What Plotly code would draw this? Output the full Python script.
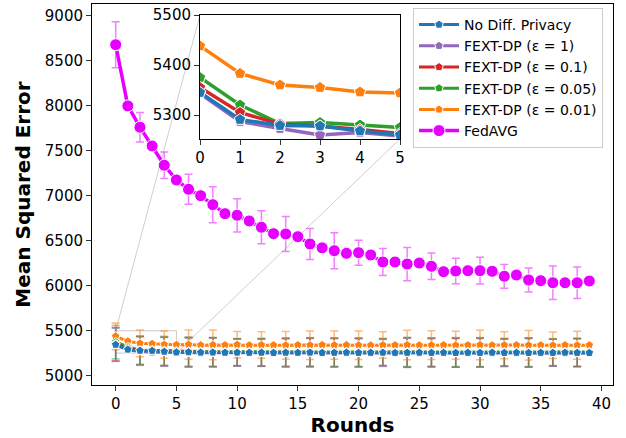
import plotly.graph_objects as go

rounds = list(range(40))

no_dp = [5345, 5291, 5279, 5278, 5268, 5260, 5262, 5258, 5259, 5257,
         5258, 5256, 5257, 5255, 5257, 5256, 5258, 5255, 5256, 5257,
         5255, 5256, 5257, 5255, 5256, 5257, 5255, 5256, 5254, 5256,
         5255, 5257, 5255, 5256, 5254, 5256, 5255, 5257, 5255, 5254]
eps_1 = [5343, 5287, 5273, 5260, 5265, 5258, 5256, 5255, 5257, 5254,
         5256, 5255, 5254, 5256, 5255, 5253, 5256, 5254, 5255, 5256,
         5254, 5255, 5253, 5256, 5254, 5255, 5256, 5254, 5255, 5253,
         5256, 5254, 5255, 5254, 5256, 5253, 5255, 5254, 5256, 5254]
eps_01 = [5355, 5305, 5282, 5278, 5271, 5263, 5262, 5260, 5261, 5259,
          5260, 5258, 5259, 5260, 5258, 5259, 5261, 5258, 5259, 5260,
          5258, 5259, 5260, 5258, 5259, 5261, 5258, 5259, 5257, 5259,
          5260, 5258, 5259, 5260, 5258, 5259, 5257, 5260, 5258, 5259]
eps_005 = [5375, 5320, 5283, 5285, 5280, 5275, 5270, 5268, 5267, 5266,
           5265, 5266, 5264, 5265, 5266, 5264, 5265, 5266, 5264, 5265,
           5263, 5265, 5266, 5264, 5265, 5263, 5265, 5266, 5264, 5265,
           5264, 5266, 5264, 5265, 5263, 5265, 5264, 5266, 5264, 5265]
eps_001 = [5438, 5383, 5360, 5355, 5346, 5344, 5346, 5340, 5343, 5341,
           5345, 5339, 5342, 5340, 5338, 5341, 5339, 5342, 5340, 5341,
           5339, 5338, 5341, 5340, 5342, 5339, 5340, 5341, 5338, 5340,
           5342, 5339, 5340, 5341, 5339, 5340, 5338, 5341, 5339, 5340]
fedavg = [8680, 8000, 7763, 7555, 7340, 7177, 7073, 7002, 6902, 6802,
          6784, 6721, 6651, 6580, 6576, 6546, 6465, 6422, 6390, 6361,
          6368, 6343, 6265, 6265, 6242, 6253, 6217, 6157, 6164, 6168,
          6168, 6161, 6106, 6120, 6065, 6057, 6034, 6034, 6034, 6053]

# error bars (shown at every second round)
err_small = [185, 158, 160, 162, 160, 150, 152, 157, 158, 158,
             158, 150, 162, 158, 161, 160, 152, 160, 150, 156]
err_001 = [149, 149, 151, 163, 165, 148, 148, 155, 158, 158,
           158, 147, 163, 160, 156, 163, 150, 163, 147, 155]
err_fedavg = [255, 163, 148, 167, 200, 185, 183, 195, 172, 200,
              139, 150, 185, 148, 141, 148, 132, 134, 187, 174]

names = ["No Diff. Privacy", "FEXT-DP (ε = 1)", "FEXT-DP (ε = 0.1)",
         "FEXT-DP (ε = 0.05)", "FEXT-DP (ε = 0.01)", "FedAVG"]
colors = ["#1f77b4", "#9467bd", "#d62728", "#2ca02c", "#ff7f0e", "#e600ff"]
err_colors = ["rgba(31,119,180,0.45)", "rgba(148,103,189,0.45)",
              "rgba(214,39,40,0.45)", "rgba(44,160,44,0.45)",
              "rgba(255,127,14,0.55)", "rgba(230,0,255,0.5)"]
series = [no_dp, eps_1, eps_01, eps_005, eps_001, fedavg]
errors = [err_small, err_small, err_small, err_small, err_001, err_fedavg]

X_RANGE = [-1.95, 40.95]
Y_RANGE = [4897, 9133]
INSET_X = [0, 5]
INSET_Y = [5252, 5500]

W, H = 626, 438
ML, MR, MT, MB = 92, 13, 4, 53
pw, ph = W - ML - MR, H - MT - MB
inx = [(200 - ML) / pw, (400 - ML) / pw]
iny = [(H - MB - 139) / ph, (H - MB - 15) / ph]

FONT = "DejaVu Sans"
fig = go.Figure()

# error bars first (behind lines)
for s, e, ec in zip(series, errors, err_colors):
    fig.add_trace(go.Scatter(
        x=rounds[::2], y=s[::2], mode="markers",
        marker=dict(size=1, color="rgba(0,0,0,0)"),
        error_y=dict(type="data", array=e, color=ec, thickness=1.5, width=4),
        showlegend=False, hoverinfo="skip"))

draw_order = [4, 3, 2, 1, 0, 5]
for i in draw_order:
    is_fed = i == 5
    fig.add_trace(go.Scatter(
        x=rounds, y=series[i], mode="lines+markers", name=names[i],
        legendrank=i + 1,
        line=dict(color=colors[i], width=3.5 if is_fed else 3),
        marker=dict(symbol="circle" if is_fed else "pentagon",
                    size=12 if is_fed else 9, color=colors[i],
                    line=dict(color="white", width=1))))

# inset
for i in [4, 3, 2, 1, 0]:
    fig.add_trace(go.Scatter(
        x=rounds[:6], y=series[i][:6], mode="lines+markers",
        xaxis="x2", yaxis="y2", showlegend=False,
        line=dict(color=colors[i], width=3.5),
        marker=dict(symbol="pentagon", size=12, color=colors[i],
                    line=dict(color="white", width=1))))

def px(v):
    return (v - X_RANGE[0]) / (X_RANGE[1] - X_RANGE[0])

def py(v):
    return (v - Y_RANGE[0]) / (Y_RANGE[1] - Y_RANGE[0])

shapes = [
    dict(type="rect", xref="x", yref="y", x0=INSET_X[0], x1=INSET_X[1],
         y0=INSET_Y[0], y1=INSET_Y[1], line=dict(color="#c8c8c8", width=1),
         layer="below"),
    dict(type="line", xref="paper", yref="paper",
         x0=px(INSET_X[0]), y0=py(INSET_Y[1]), x1=inx[0], y1=iny[1],
         line=dict(color="#cfcfcf", width=1), layer="below"),
    dict(type="line", xref="paper", yref="paper",
         x0=px(INSET_X[1]), y0=py(INSET_Y[0]), x1=inx[1], y1=iny[0],
         line=dict(color="#cfcfcf", width=1), layer="below"),
]

axis_common = dict(showline=True, mirror=True, linecolor="black", linewidth=1,
                   ticks="outside", ticklen=5, tickwidth=1, tickcolor="#333",
                   showgrid=False, zeroline=False, automargin=False,
                   tickfont=dict(family=FONT, size=15, color="black"))

fig.update_layout(
    width=W, height=H,
    margin=dict(l=ML, r=MR, t=MT, b=MB),
    paper_bgcolor="white", plot_bgcolor="white",
    font=dict(family=FONT, color="black"),
    showlegend=True,
    xaxis=dict(range=X_RANGE, tickvals=list(range(0, 41, 5)),
               title=dict(text="Rounds", font=dict(family=FONT, size=20, weight="bold"),
                          standoff=4), **axis_common),
    yaxis=dict(range=Y_RANGE, tickvals=list(range(5000, 9001, 500)),
               title=dict(text="Mean Squared Error",
                          font=dict(family=FONT, size=20, weight="bold"), standoff=8),
               **axis_common),
    xaxis2=dict(domain=inx, anchor="y2", range=INSET_X, tickvals=list(range(0, 6)),
                **axis_common),
    yaxis2=dict(domain=iny, anchor="x2", range=INSET_Y,
                tickvals=[5300, 5400, 5500], **axis_common),
    legend=dict(x=(413 - ML) / pw, y=(H - MB - 8) / ph, xanchor="left", yanchor="top",
                bgcolor="rgba(255,255,255,0.85)", bordercolor="#cccccc", borderwidth=1,
                itemwidth=40,
                font=dict(family=FONT, size=14, color="black")),
    shapes=shapes,
)

fig.write_html("out.html", config={"displayModeBar": False},
               post_script="document.body.style.margin='0px';")
